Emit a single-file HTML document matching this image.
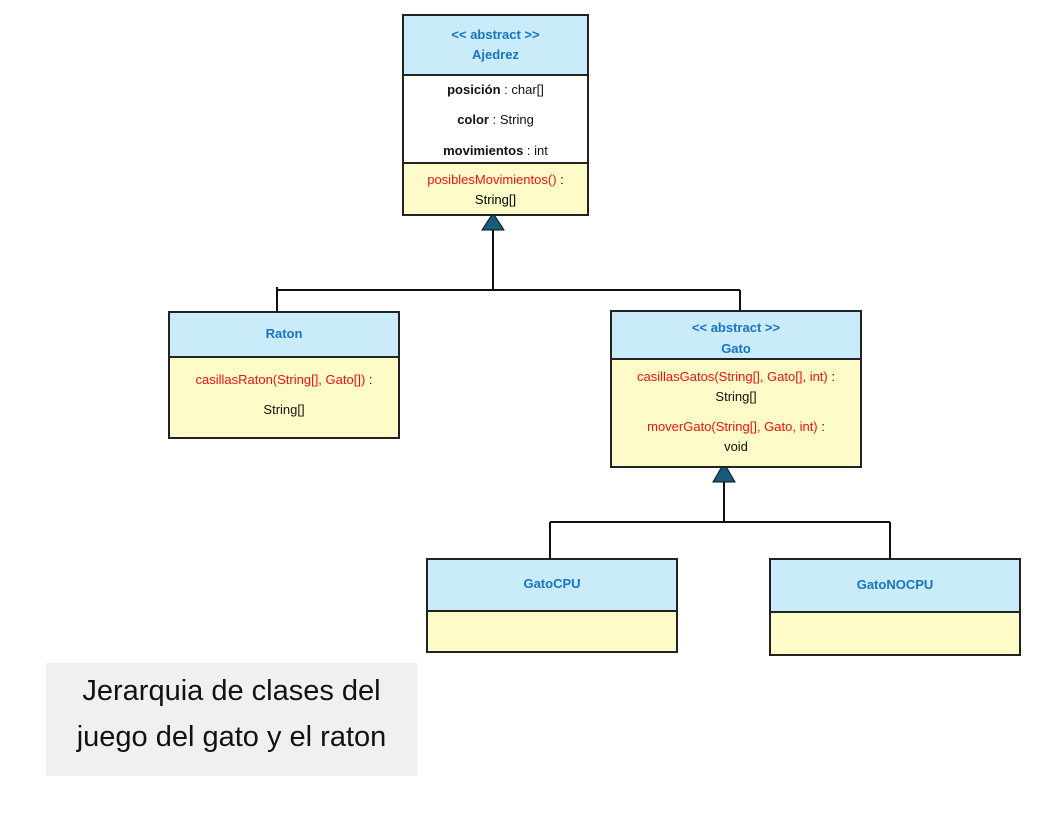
<!DOCTYPE html>
<html><head><meta charset="utf-8"><style>
body{margin:0;width:1056px;height:816px;background:#fff;position:relative;overflow:hidden;font-family:"Liberation Sans",sans-serif;font-size:13px;}
.b{position:absolute;border:2px solid #222;box-sizing:border-box;}
.h{position:absolute;left:0;right:0;top:0;background:#c9ebfa;border-bottom:2px solid #222;color:#1874c4;font-weight:bold;text-align:center;box-sizing:border-box;}
.m{position:absolute;left:0;right:0;bottom:0;background:#fdfcc8;text-align:center;box-sizing:border-box;}
.t{position:absolute;left:0;right:0;text-align:center;white-space:nowrap;color:#111;}
.r{color:#f01010;}
</style></head><body>
<svg width="1056" height="816" style="position:absolute;left:0;top:0">
<g stroke="#111" stroke-width="2" fill="none">
<line x1="493" y1="230" x2="493" y2="290"/>
<line x1="277" y1="290" x2="740" y2="290"/>
<line x1="277" y1="287" x2="277" y2="312"/>
<line x1="740" y1="290" x2="740" y2="311"/>
<line x1="724" y1="482" x2="724" y2="522"/>
<line x1="550" y1="522" x2="890" y2="522"/>
<line x1="550" y1="522" x2="550" y2="559"/>
<line x1="890" y1="522" x2="890" y2="559"/>
</g>
<polygon points="493,213 482,230 504,230" fill="#185b7a" stroke="#111" stroke-width="1"/>
<polygon points="724,463 713,482 735,482" fill="#185b7a" stroke="#111" stroke-width="1"/>
</svg>

<div class="b" style="left:402px;top:14px;width:187px;height:202px;">
<div class="h" style="height:60px;padding-top:9px;line-height:20px;">&lt;&lt; abstract &gt;&gt;<br>Ajedrez</div>
<div class="t" style="top:66px"><b>posición</b> : char[]</div>
<div class="t" style="top:96px"><b>color</b> : String</div>
<div class="t" style="top:127px"><b>movimientos</b> : int</div>
<div class="m" style="top:146px;border-top:2px solid #222;padding-top:6px;line-height:20px;"><span class="r">posiblesMovimientos()</span> :<br>String[]</div>
</div>

<div class="b" style="left:168px;top:311px;width:232px;height:128px;">
<div class="h" style="height:45px;line-height:42px;">Raton</div>
<div class="m" style="top:45px;">
<div class="t" style="top:14px"><span class="r">casillasRaton(String[], Gato[])</span> :</div>
<div class="t" style="top:44px">String[]</div>
</div></div>

<div class="b" style="left:610px;top:310px;width:252px;height:158px;">
<div class="h" style="height:48px;padding-top:5px;line-height:21px;">&lt;&lt; abstract &gt;&gt;<br>Gato</div>
<div class="m" style="top:48px;">
<div class="t" style="top:7px;line-height:20px;"><span class="r">casillasGatos(String[], Gato[], int)</span> :<br>String[]</div>
<div class="t" style="top:57px;line-height:20px;"><span class="r">moverGato(String[], Gato, int)</span> :<br>void</div>
</div></div>

<div class="b" style="left:426px;top:558px;width:252px;height:95px;">
<div class="h" style="height:52px;line-height:48px;">GatoCPU</div>
<div class="m" style="top:52px;"></div></div>

<div class="b" style="left:769px;top:558px;width:252px;height:98px;">
<div class="h" style="height:53px;line-height:50px;">GatoNOCPU</div>
<div class="m" style="top:53px;"></div></div>

<div style="position:absolute;left:46px;top:663px;width:371px;height:113px;background:#f0f0f0;text-align:center;font-size:29px;line-height:46px;padding-top:5px;box-sizing:border-box;color:#111;">Jerarquia de clases del<br>juego del gato y el raton</div>
</body></html>
